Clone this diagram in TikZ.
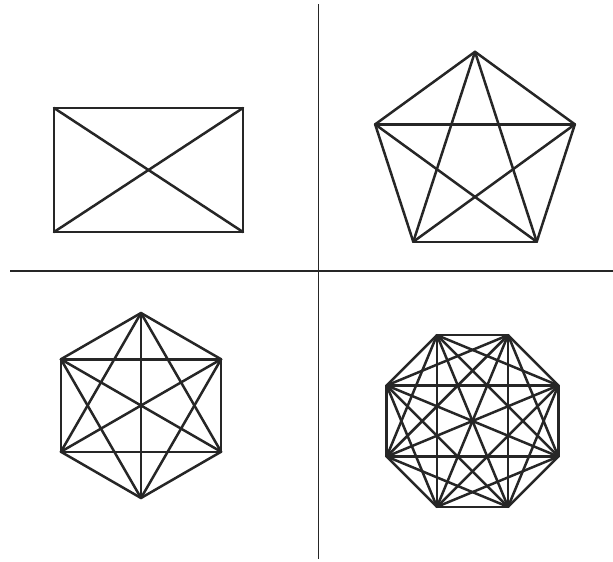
\documentclass[tikz,border=0pt]{standalone}
\begin{document}
\begin{tikzpicture}[x=1pt,y=-1pt,
  edge/.style={line width=2.5pt, line cap=round, line join=round, black!85},
  divider/.style={line width=1.7pt, black!85}]
\useasboundingbox (0,0) rectangle (613,562);
% dividers
\coordinate (vt) at (318.5,4);
\coordinate (vb) at (318.5,559);
\coordinate (hl) at (10,271);
\coordinate (hr) at (613,271);
\draw[divider] (vt) -- (vb);
\draw[divider] (hl) -- (hr);
% rectangle K4
\coordinate (r1) at (54,108);
\coordinate (r2) at (243,108);
\coordinate (r3) at (243,232);
\coordinate (r4) at (54,232);
\foreach \i in {1,...,3}{
  \pgfmathtruncatemacro\nxt{\i+1}
  \foreach \j in {\nxt,...,4}{\draw[edge] (r\i) -- (r\j);}
}
% pentagon K5
\foreach \i in {1,...,5}{
  \coordinate (p\i) at ({475+105*cos(90+72*\i)},{156.8-105*sin(90+72*\i)});
}
\foreach \i in {1,...,4}{
  \pgfmathtruncatemacro\nxt{\i+1}
  \foreach \j in {\nxt,...,5}{\draw[edge] (p\i) -- (p\j);}
}
% hexagon K6
\foreach \i in {1,...,6}{
  \coordinate (h\i) at ({141+92.5*cos(90+60*\i)},{405.5-92.5*sin(90+60*\i)});
}
\foreach \i in {1,...,5}{
  \pgfmathtruncatemacro\nxt{\i+1}
  \foreach \j in {\nxt,...,6}{\draw[edge] (h\i) -- (h\j);}
}
% octagon K8
\foreach \i in {1,...,8}{
  \coordinate (o\i) at ({472.5+92.9*cos(22.5+45*\i)},{421-92.9*sin(22.5+45*\i)});
}
\foreach \i in {1,...,7}{
  \pgfmathtruncatemacro\nxt{\i+1}
  \foreach \j in {\nxt,...,8}{\draw[edge] (o\i) -- (o\j);}
}
\end{tikzpicture}
\end{document}
